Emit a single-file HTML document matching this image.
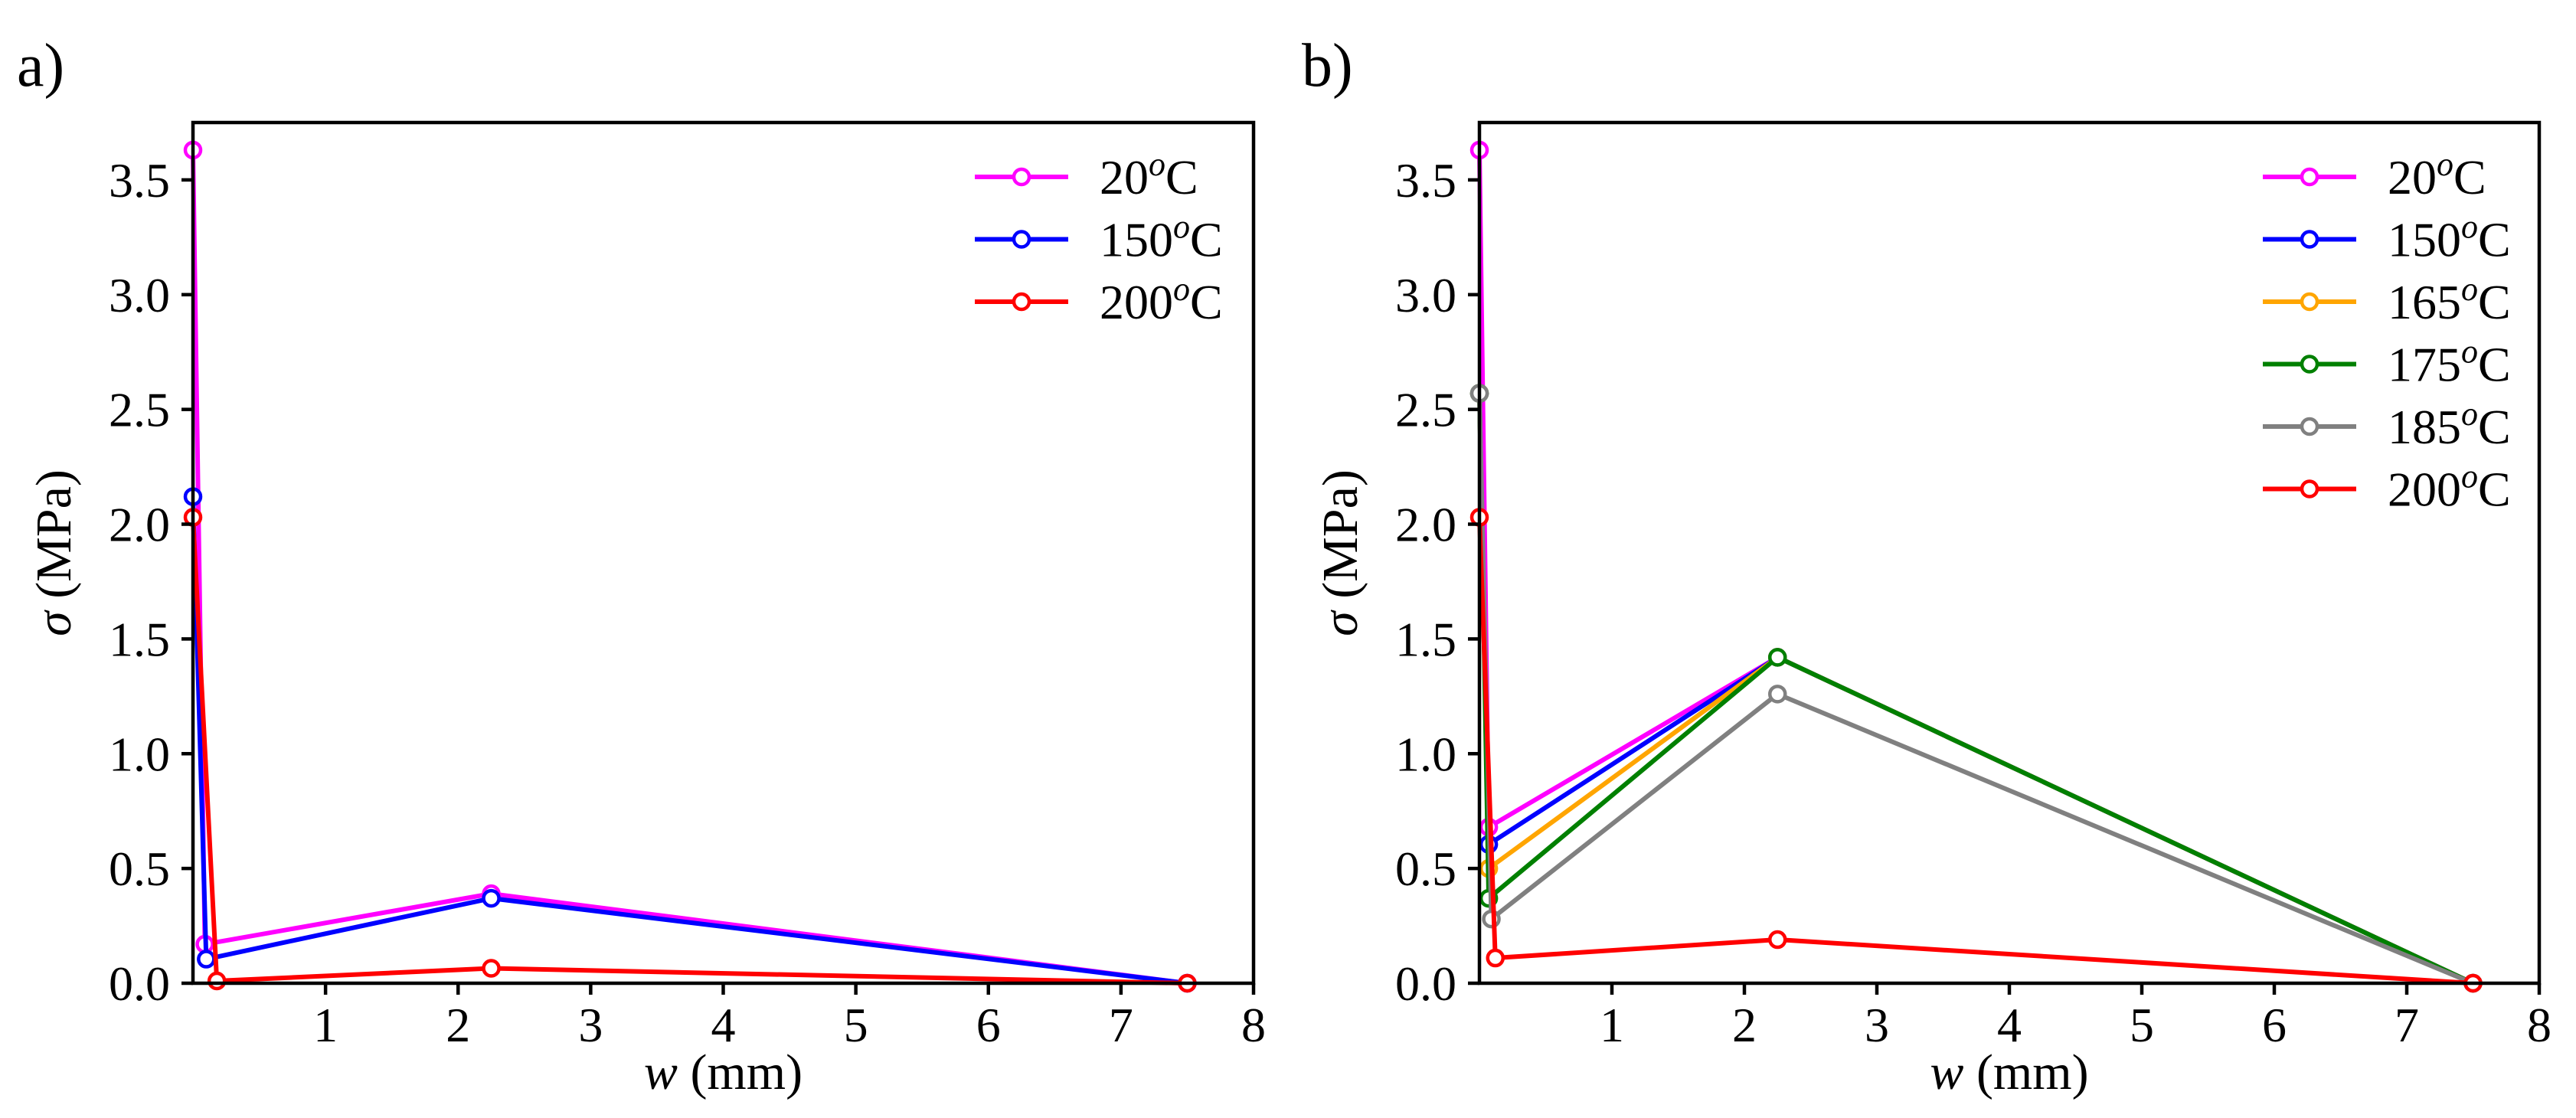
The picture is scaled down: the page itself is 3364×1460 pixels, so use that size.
<!DOCTYPE html>
<html><head><meta charset="utf-8"><style>
html,body{margin:0;padding:0;background:#fff;}
svg{display:block;font-family:"Liberation Serif",serif;}
</style></head><body>
<svg id="fig" width="3364" height="1460" viewBox="0 0 3364 1460" xmlns="http://www.w3.org/2000/svg">
<text x="22" y="112" font-size="80">a)</text>
<text x="1700" y="112" font-size="80">b)</text>
</svg>
<script>
const xTicks = [1,2,3,4,5,6,7,8];
const yTicks = [0,0.5,1.0,1.5,2.0,2.5,3.0,3.5];
const yTickLabels = ["0.0","0.5","1.0","1.5","2.0","2.5","3.0","3.5"];
const xDomain = [0,8];
const yDomain = [0,3.75];

const aNames = ["20","150","200"];
const aColors = ["#ff00ff","#0000ff","#ff0000"];
const aX20 = [0,0.09,2.25,7.5];   const aY20 = [3.63,0.17,0.39,0];
const aX150 = [0,0.10,2.25,7.5];  const aY150 = [2.12,0.105,0.37,0];
const aX200 = [0,0.18,2.25,7.5];  const aY200 = [2.03,0.01,0.065,0];

const bNames = ["20","150","165","175","185","200"];
const bColors = ["#ff00ff","#0000ff","#ffa500","#008000","#808080","#ff0000"];
const bX20 = [0,0.07,2.25,7.5];  const bY20 = [3.63,0.68,1.42,0];
const bX150 = [0,0.07,2.25,7.5]; const bY150 = [2.57,0.605,1.42,0];
const bX165 = [0,0.07,2.25,7.5]; const bY165 = [2.57,0.50,1.42,0];
const bX175 = [0,0.07,2.25,7.5]; const bY175 = [2.57,0.37,1.42,0];
const bX185 = [0,0.09,2.25,7.5]; const bY185 = [2.57,0.28,1.26,0];
const bX200 = [0,0.12,2.25,7.5]; const bY200 = [2.03,0.11,0.19,0];

const NS="http://www.w3.org/2000/svg";
const svg=document.getElementById('fig');
function mk(tag,attrs,parent){const e=document.createElementNS(NS,tag);for(const k in attrs)e.setAttribute(k,attrs[k]);(parent||svg).appendChild(e);return e;}

function panel(id,L,R,T,B,series,legendX){
  const g=mk('g',{});
  
  
  const sx=v=>L+(v-xDomain[0])/(xDomain[1]-xDomain[0])*(R-L);
  const sy=v=>B-(v-yDomain[0])/(yDomain[1]-yDomain[0])*(B-T);
  series.forEach(s=>{
    const pts=s.x.map((v,i)=>sx(v)+','+sy(s.y[i])).join(' ');
    const pl=mk('polyline',{points:pts,fill:'none',stroke:s.c,'stroke-width':6,'stroke-linejoin':'round'},g);
    
    
    s.x.forEach((v,i)=>{
      const c=mk('circle',{cx:sx(v),cy:sy(s.y[i]),r:10,fill:'#fff',stroke:s.c,'stroke-width':4.5},g);
      
      
    });
  });
  const fr=mk('rect',{x:L,y:T,width:R-L,height:B-T,fill:'none',stroke:'#000','stroke-width':4.5},g);
  
  
  xTicks.forEach(t=>{
    mk('line',{x1:sx(t),x2:sx(t),y1:B,y2:B+15,stroke:'#000','stroke-width':4.5},g);
    const tx=mk('text',{x:sx(t),y:1360,'font-size':64,'text-anchor':'middle'},g);
    tx.textContent=t;
    
    
  });
  yTicks.forEach((t,i)=>{
    mk('line',{x1:L-15,x2:L,y1:sy(t),y2:sy(t),stroke:'#000','stroke-width':4.5},g);
    const tx=mk('text',{x:L-30,y:sy(t)+22,'font-size':64,'text-anchor':'end'},g);
    tx.textContent=yTickLabels[i];
    
    
  });
  const xl=mk('text',{x:(L+R)/2,y:1422,'font-size':66,'text-anchor':'middle'},g);
  xl.innerHTML='<tspan font-style="italic">w</tspan> (mm)';
  
  
  const yx=L-160, yc=(T+B)/2;
  const yl=mk('text',{x:yx,y:yc,'font-size':66,'text-anchor':'middle',transform:'rotate(-90 '+yx+' '+yc+')'},g);
  yl.innerHTML='<tspan font-style="italic">σ</tspan> (MPa)';
  
  
  series.forEach((s,i)=>{
    const y=231+i*81.5;
    const lg=mk('g',{},g);
    
    
    mk('line',{x1:legendX,x2:legendX+122,y1:y,y2:y,stroke:s.c,'stroke-width':6},lg);
    mk('circle',{cx:legendX+61,cy:y,r:10,fill:'#fff',stroke:s.c,'stroke-width':4.5},lg);
    const t=mk('text',{x:legendX+163,y:y+22,'font-size':64},lg);
    t.innerHTML=s.n+'<tspan font-style="italic" font-size="44" dy="-24">o</tspan><tspan dy="24">C</tspan>';
  });
}
panel('panel-a',252,1637,160,1284,[
  {n:aNames[0],c:aColors[0],x:aX20,y:aY20},
  {n:aNames[1],c:aColors[1],x:aX150,y:aY150},
  {n:aNames[2],c:aColors[2],x:aX200,y:aY200}],1273);
panel('panel-b',1932,3316,160,1284,[
  {n:bNames[0],c:bColors[0],x:bX20,y:bY20},
  {n:bNames[1],c:bColors[1],x:bX150,y:bY150},
  {n:bNames[2],c:bColors[2],x:bX165,y:bY165},
  {n:bNames[3],c:bColors[3],x:bX175,y:bY175},
  {n:bNames[4],c:bColors[4],x:bX185,y:bY185},
  {n:bNames[5],c:bColors[5],x:bX200,y:bY200}],2955);
</script>
</body></html>
